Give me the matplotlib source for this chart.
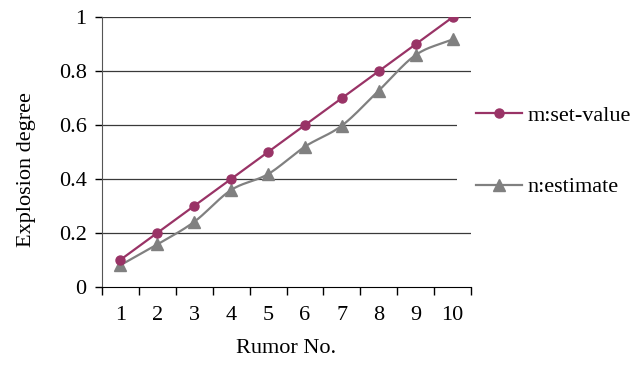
import numpy as np
import matplotlib
matplotlib.use("Agg")
import matplotlib.pyplot as plt
from matplotlib.lines import Line2D

rumor_no = [1, 2, 3, 4, 5, 6, 7, 8, 9, 10]
set_value = [0.1, 0.2, 0.3, 0.4, 0.5, 0.6, 0.7, 0.8, 0.9, 1.0]
estimate = [0.08, 0.157, 0.241, 0.359, 0.418, 0.52, 0.598, 0.728, 0.86, 0.918]

M_COLOR = "#993366"
N_COLOR = "#808080"

plt.rcParams["font.family"] = ["Liberation Serif", "DejaVu Serif"]
plt.rcParams["font.size"] = 16


def smooth(x, y, n=20):
    # Catmull-Rom curve through the points (like spreadsheet "smoothed line")
    x = np.asarray(x, float)
    y = np.asarray(y, float)
    px = np.concatenate([[2 * x[0] - x[1]], x, [2 * x[-1] - x[-2]]])
    py = np.concatenate([[2 * y[0] - y[1]], y, [2 * y[-1] - y[-2]]])
    t = np.linspace(0, 1, n)
    xs, ys = [], []
    for i in range(1, len(px) - 2):
        for p, out in ((px, xs), (py, ys)):
            p0, p1, p2, p3 = p[i - 1], p[i], p[i + 1], p[i + 2]
            out.append(0.5 * ((2 * p1) + (-p0 + p2) * t
                              + (2 * p0 - 5 * p1 + 4 * p2 - p3) * t ** 2
                              + (-p0 + 3 * p1 - 3 * p2 + p3) * t ** 3))
    return np.concatenate(xs), np.concatenate(ys)


fig = plt.figure(figsize=(6.44, 3.71), dpi=100)
ax = fig.add_axes([0.1584, 0.2272, 0.5730, 0.7262])

for yv in [0.2, 0.4, 0.6, 0.8, 1.0]:
    ax.axhline(yv, color="#3a3a3a", lw=0.9, zorder=1)

sx, sy = smooth(rumor_no, set_value)
ax.plot(sx, sy, color=M_COLOR, lw=1.6, zorder=3)
ax.plot(rumor_no, set_value, "o", color=M_COLOR, ms=6.5, zorder=4)

ex, ey = smooth(rumor_no, estimate)
ax.plot(ex, ey, color=N_COLOR, lw=1.6, zorder=2)
ax.plot(rumor_no, estimate, "^", color=N_COLOR, ms=8.5, zorder=3)

ax.set_xlim(0.5, 10.5)
ax.set_ylim(0, 1)
ax.set_xticks(rumor_no)
ax.set_xticks(np.arange(0.5, 11, 1), minor=True)
ax.set_yticks([0, 0.2, 0.4, 0.6, 0.8, 1.0])
ax.set_yticklabels(["0", "0.2", "0.4", "0.6", "0.8", "1"])
ax.tick_params(axis="x", which="major", length=0, pad=14)
ax.tick_params(axis="x", which="minor", length=6, width=1, color="black")
ax.tick_params(axis="y", length=5, width=1, pad=6)

for side in ["top", "right"]:
    ax.spines[side].set_visible(False)
ax.spines["left"].set_color("#555555")
ax.spines["bottom"].set_color("black")

ax.set_xlabel("Rumor No.", labelpad=10)
ax.set_ylabel("Explosion degree")
ax.yaxis.set_label_coords(-0.18, 0.433)

handles = [
    Line2D([], [], color=M_COLOR, lw=1.6, marker="o", ms=6.5),
    Line2D([], [], color=N_COLOR, lw=1.6, marker="^", ms=8.5),
]
fig.legend(handles, ["m:set-value", "n:estimate"], loc="center left",
           bbox_to_anchor=(457 / 644, 0.592), frameon=True, facecolor="white",
           edgecolor="none", framealpha=1, fancybox=False,
           borderpad=0.85, handlelength=2.07, handletextpad=0.25,
           labelspacing=2.3, borderaxespad=0)

fig.savefig("out.png", dpi=100)
